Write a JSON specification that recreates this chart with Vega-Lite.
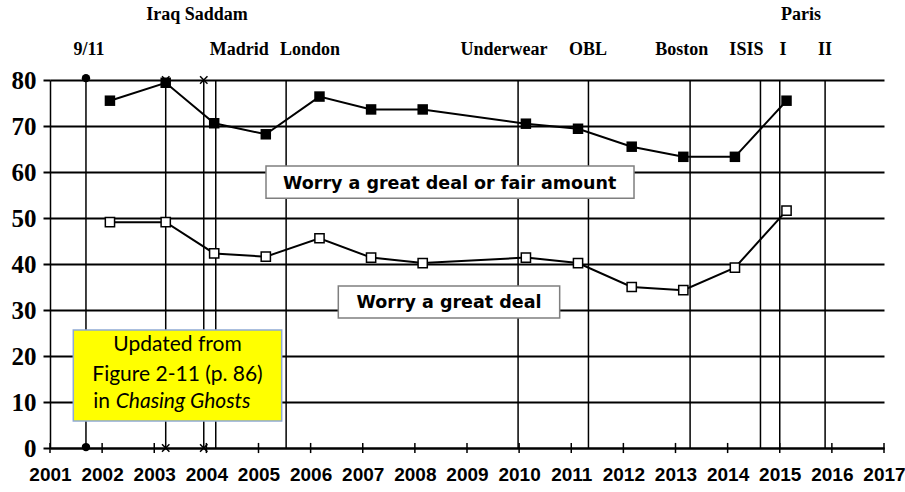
{
  "$schema": "https://vega.github.io/schema/vega-lite/v6.json",
  "width": 834,
  "height": 368,
  "autosize": {"type": "none"},
  "padding": {"left": 50, "top": 80, "right": 21, "bottom": 44},
  "background": "white",
  "config": {"view": {"stroke": null}},
  "datasets": {
    "survey": [
      {"x": 2002.15, "y": 75.5, "series": "fair"},
      {"x": 2003.22, "y": 79.4, "series": "fair"},
      {"x": 2004.15, "y": 70.6, "series": "fair"},
      {"x": 2005.14, "y": 68.2, "series": "fair"},
      {"x": 2006.17, "y": 76.4, "series": "fair"},
      {"x": 2007.16, "y": 73.6, "series": "fair"},
      {"x": 2008.15, "y": 73.6, "series": "fair"},
      {"x": 2010.13, "y": 70.5, "series": "fair"},
      {"x": 2011.13, "y": 69.4, "series": "fair"},
      {"x": 2012.16, "y": 65.5, "series": "fair"},
      {"x": 2013.15, "y": 63.3, "series": "fair"},
      {"x": 2014.14, "y": 63.3, "series": "fair"},
      {"x": 2015.13, "y": 75.5, "series": "fair"},
      {"x": 2002.15, "y": 49.1, "series": "great"},
      {"x": 2003.22, "y": 49.1, "series": "great"},
      {"x": 2004.15, "y": 42.3, "series": "great"},
      {"x": 2005.14, "y": 41.6, "series": "great"},
      {"x": 2006.17, "y": 45.6, "series": "great"},
      {"x": 2007.16, "y": 41.4, "series": "great"},
      {"x": 2008.15, "y": 40.2, "series": "great"},
      {"x": 2010.13, "y": 41.4, "series": "great"},
      {"x": 2011.13, "y": 40.2, "series": "great"},
      {"x": 2012.16, "y": 35.0, "series": "great"},
      {"x": 2013.15, "y": 34.3, "series": "great"},
      {"x": 2014.14, "y": 39.2, "series": "great"},
      {"x": 2015.13, "y": 51.6, "series": "great"}
    ],
    "events": [
      {"x": 2001.69, "name": "9/11"},
      {"x": 2003.22, "name": "Iraq"},
      {"x": 2003.95, "name": "Saddam"},
      {"x": 2004.18, "name": "Madrid"},
      {"x": 2005.53, "name": "London"},
      {"x": 2009.98, "name": "Underwear"},
      {"x": 2011.33, "name": "OBL"},
      {"x": 2013.28, "name": "Boston"},
      {"x": 2014.63, "name": "ISIS"},
      {"x": 2015.0, "name": "Paris I"},
      {"x": 2015.87, "name": "Paris II"}
    ],
    "years": [
      {"x": 2001}, {"x": 2002}, {"x": 2003}, {"x": 2004}, {"x": 2005}, {"x": 2006},
      {"x": 2007}, {"x": 2008}, {"x": 2009}, {"x": 2010}, {"x": 2011}, {"x": 2012},
      {"x": 2013}, {"x": 2014}, {"x": 2015}, {"x": 2016}, {"x": 2017}
    ],
    "circles": [
      {"x": 2001.69, "y": 80.4},
      {"x": 2001.69, "y": 0.2}
    ],
    "crosses": [
      {"x": 2003.22, "y": 80},
      {"x": 2003.22, "y": 0},
      {"x": 2003.95, "y": 80},
      {"x": 2003.95, "y": 0}
    ],
    "eventLabels": [
      {"text": "Iraq Saddam", "x": 2003.82, "y": 93.1},
      {"text": "Paris", "x": 2015.41, "y": 93.1},
      {"text": "9/11", "x": 2001.75, "y": 85.4},
      {"text": "Madrid", "x": 2004.63, "y": 85.4},
      {"text": "London", "x": 2005.99, "y": 85.4},
      {"text": "Underwear", "x": 2009.71, "y": 85.4},
      {"text": "OBL", "x": 2011.32, "y": 85.4},
      {"text": "Boston", "x": 2013.12, "y": 85.4},
      {"text": "ISIS", "x": 2014.36, "y": 85.4},
      {"text": "I", "x": 2015.06, "y": 85.4},
      {"text": "II", "x": 2015.87, "y": 85.4}
    ],
    "whiteBoxes": [
      {"x": 2005.144, "x2": 2012.204, "y": 61.3, "y2": 54.3},
      {"x": 2006.531, "x2": 2010.778, "y": 35.2, "y2": 28.26}
    ],
    "boxLabels": [
      {"text": "Worry a great deal or fair amount", "x": 2008.668, "y": 56.4},
      {"text": "Worry a great deal", "x": 2008.655, "y": 30.43}
    ],
    "noteBox": [
      {"x": 2001.447, "x2": 2005.445, "y": 25.65, "y2": 5.87}
    ],
    "noteLines": [
      {"text": "Updated from", "x": 2003.446, "y": 22.3},
      {"text": "Figure 2-11 (p. 86)", "x": 2003.446, "y": 15.9}
    ],
    "noteIn": [
      {"text": "in", "x": 2001.83, "y": 10.0}
    ],
    "noteItalic": [
      {"text": "Chasing Ghosts", "x": 2002.26, "y": 10.0}
    ]
  },
  "layer": [
    {
      "data": {"name": "survey"},
      "mark": {"type": "line", "color": "black", "strokeWidth": 2},
      "encoding": {
        "x": {
          "field": "x",
          "type": "quantitative",
          "title": null,
          "scale": {"domain": [2001, 2017], "nice": false, "zero": false},
          "axis": {
            "values": [2001, 2002, 2003, 2004, 2005, 2006, 2007, 2008, 2009, 2010, 2011, 2012, 2013, 2014, 2015, 2016, 2017],
            "format": "d",
            "grid": false,
            "ticks": false,
            "domainColor": "black",
            "domainWidth": 2,
            "labelFont": "'Liberation Sans Narrow', 'Liberation Sans', sans-serif",
            "labelFontWeight": "bold",
            "labelFontSize": 19,
            "labelColor": "black",
            "labelPadding": 17,
            "labelFlush": false,
            "labelOverlap": false
          }
        },
        "y": {
          "field": "y",
          "type": "quantitative",
          "title": null,
          "scale": {"domain": [0, 80], "nice": false, "zero": true},
          "axis": {
            "values": [0, 10, 20, 30, 40, 50, 60, 70, 80],
            "grid": true,
            "gridColor": "black",
            "gridWidth": 2,
            "gridOpacity": 1,
            "tickColor": "black",
            "tickSize": 7,
            "tickWidth": 2,
            "domainColor": "black",
            "domainWidth": 1.5,
            "labelFont": "'Liberation Serif', serif",
            "labelFontWeight": "bold",
            "labelFontSize": 25,
            "labelColor": "black",
            "labelPadding": 7
          }
        },
        "detail": {"field": "series"}
      }
    },
    {
      "data": {"name": "events"},
      "mark": {"type": "rule", "color": "black", "strokeWidth": 1.5},
      "encoding": {
        "x": {"field": "x", "type": "quantitative", "title": null},
        "y": {"datum": 0, "type": "quantitative"},
        "y2": {"datum": 80}
      }
    },
    {
      "data": {"name": "years"},
      "mark": {"type": "rule", "color": "black", "strokeWidth": 1.5},
      "encoding": {
        "x": {"field": "x", "type": "quantitative", "title": null},
        "y": {"datum": -1.1, "type": "quantitative"},
        "y2": {"datum": 1.1}
      }
    },
    {
      "data": {"name": "circles"},
      "mark": {"type": "point", "shape": "circle", "filled": true, "color": "black", "size": 70, "opacity": 1},
      "encoding": {
        "x": {"field": "x", "type": "quantitative", "title": null},
        "y": {"field": "y", "type": "quantitative", "title": null}
      }
    },
    {
      "data": {"name": "crosses"},
      "mark": {"type": "point", "shape": "M-1,-1L1,1M-1,1L1,-1", "filled": false, "color": "black", "size": 55, "strokeWidth": 1.5, "opacity": 1},
      "encoding": {
        "x": {"field": "x", "type": "quantitative", "title": null},
        "y": {"field": "y", "type": "quantitative", "title": null}
      }
    },
    {
      "data": {"name": "whiteBoxes"},
      "mark": {"type": "rect", "fill": "white", "stroke": "#7f7f7f", "strokeWidth": 1.5},
      "encoding": {
        "x": {"field": "x", "type": "quantitative", "title": null},
        "x2": {"field": "x2"},
        "y": {"field": "y", "type": "quantitative", "title": null},
        "y2": {"field": "y2"}
      }
    },
    {
      "data": {"name": "boxLabels"},
      "mark": {"type": "text", "font": "'DejaVu Sans', sans-serif", "fontWeight": "bold", "fontSize": 17.5, "color": "black", "align": "center", "baseline": "alphabetic"},
      "encoding": {
        "x": {"field": "x", "type": "quantitative", "title": null},
        "y": {"field": "y", "type": "quantitative", "title": null},
        "text": {"field": "text"}
      }
    },
    {
      "data": {"name": "noteBox"},
      "mark": {"type": "rect", "fill": "#ffff00", "stroke": "#8fa9d4", "strokeWidth": 1.5},
      "encoding": {
        "x": {"field": "x", "type": "quantitative", "title": null},
        "x2": {"field": "x2"},
        "y": {"field": "y", "type": "quantitative", "title": null},
        "y2": {"field": "y2"}
      }
    },
    {
      "data": {"name": "noteLines"},
      "mark": {"type": "text", "font": "Lato", "fontSize": 21, "color": "black", "align": "center", "baseline": "middle"},
      "encoding": {
        "x": {"field": "x", "type": "quantitative", "title": null},
        "y": {"field": "y", "type": "quantitative", "title": null},
        "text": {"field": "text"}
      }
    },
    {
      "data": {"name": "noteIn"},
      "mark": {"type": "text", "font": "Lato", "fontSize": 21, "color": "black", "align": "left", "baseline": "middle"},
      "encoding": {
        "x": {"field": "x", "type": "quantitative", "title": null},
        "y": {"field": "y", "type": "quantitative", "title": null},
        "text": {"field": "text"}
      }
    },
    {
      "data": {"name": "noteItalic"},
      "mark": {"type": "text", "font": "Lato", "fontStyle": "italic", "fontSize": 21, "color": "black", "align": "left", "baseline": "middle"},
      "encoding": {
        "x": {"field": "x", "type": "quantitative", "title": null},
        "y": {"field": "y", "type": "quantitative", "title": null},
        "text": {"field": "text"}
      }
    },
    {
      "data": {"name": "eventLabels"},
      "mark": {"type": "text", "font": "'Liberation Serif', serif", "fontWeight": "bold", "fontSize": 18, "color": "black", "align": "center", "baseline": "alphabetic"},
      "encoding": {
        "x": {"field": "x", "type": "quantitative", "title": null},
        "y": {"field": "y", "type": "quantitative", "title": null},
        "text": {"field": "text"}
      }
    },
    {
      "data": {"name": "survey"},
      "transform": [{"filter": "datum.series === 'fair'"}],
      "mark": {"type": "point", "shape": "square", "filled": true, "color": "black", "size": 110, "opacity": 1},
      "encoding": {
        "x": {"field": "x", "type": "quantitative", "title": null},
        "y": {"field": "y", "type": "quantitative", "title": null}
      }
    },
    {
      "data": {"name": "survey"},
      "transform": [{"filter": "datum.series === 'great'"}],
      "mark": {"type": "point", "shape": "square", "filled": true, "fill": "white", "stroke": "black", "strokeWidth": 1.5, "size": 85, "opacity": 1},
      "encoding": {
        "x": {"field": "x", "type": "quantitative", "title": null},
        "y": {"field": "y", "type": "quantitative", "title": null}
      }
    }
  ]
}
